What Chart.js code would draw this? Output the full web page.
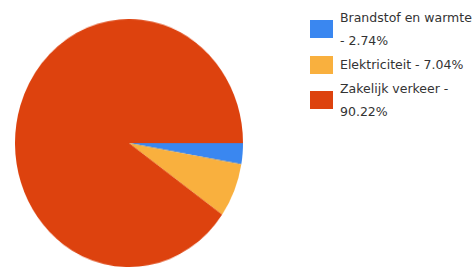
<!DOCTYPE html>
<html>
<head>
<meta charset="utf-8">
<script src="https://cdn.jsdelivr.net/npm/chart.js@4"></script>
<style>
  html, body { margin: 0; padding: 0; background: #fff; }
  body { width: 473px; height: 267px; position: relative; overflow: hidden; }
  #pieWrap { position: absolute; left: 15px; top: 19px; width: 228px; height: 228px;
             transform: scaleY(1.088); transform-origin: 0 0; }
  #legend { position: absolute; left: 310px; top: 6px; width: 163px;
            font-family: "DejaVu Sans", sans-serif; font-size: 12.5px; color: #333; }
  .item { display: flex; align-items: center; margin-bottom: 1px; }
  .box { width: 23px; height: 18px; flex: none; margin-right: 7px; }
  .txt { line-height: 23px; width: 134px; }
</style>
</head>
<body>
<div id="pieWrap"><canvas id="myChart"></canvas></div>
<div id="legend"></div>
<script>
const labels = ['Brandstof en warmte', 'Elektriciteit', 'Zakelijk verkeer'];
const values = [2.74, 7.04, 90.22];
const colors = ['#3a87f0', '#f9b03e', '#dd420e'];

const myChart = document.getElementById("myChart");
let pieChart = new Chart(myChart, {
    type: 'pie',
    data: {
        labels: labels,
        datasets: [
            {
                data: values,
                backgroundColor: colors,
                borderWidth: 0
            }
        ]
    },
    options: {
        responsive: true,
        maintainAspectRatio: false,
        animation: false,
        rotation: 90,
        layout: { padding: 0 },
        plugins: {
            legend: { display: false },
            tooltip: { enabled: false }
        }
    }
});

// legend next to the pie, text wraps like the original
const legend = document.getElementById("legend");
for (let i = 0; i < labels.length; i++) {
    const item = document.createElement("div");
    item.className = "item";
    const box = document.createElement("div");
    box.className = "box";
    box.style.background = colors[i];
    const txt = document.createElement("div");
    txt.className = "txt";
    txt.textContent = labels[i] + " - " + values[i].toFixed(2) + "%";
    item.appendChild(box);
    item.appendChild(txt);
    legend.appendChild(item);
}
</script>
</body>
</html>
